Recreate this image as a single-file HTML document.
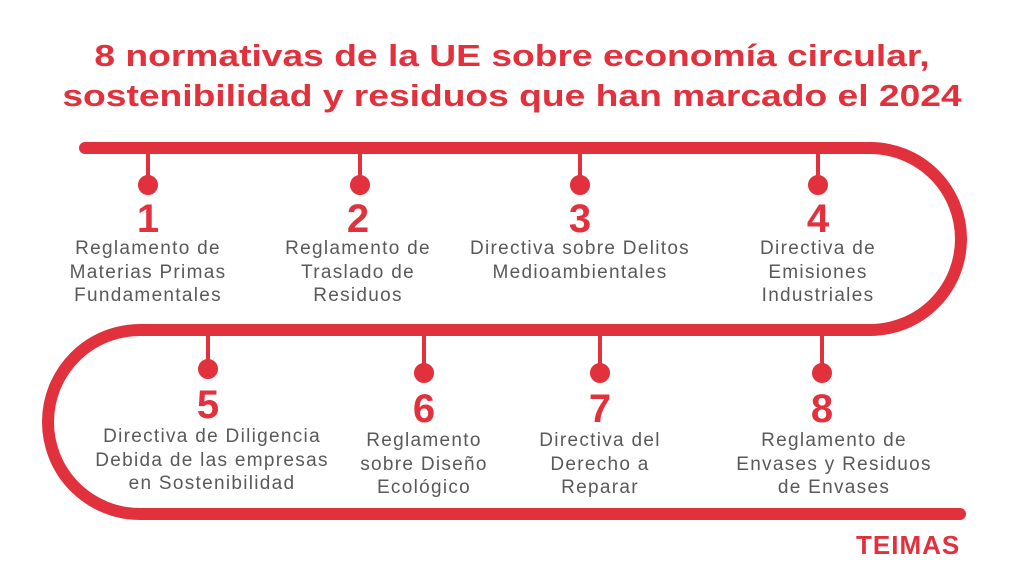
<!DOCTYPE html>
<html><head><meta charset="utf-8"><style>
body{margin:0;width:1024px;height:576px;background:#fff;overflow:hidden;position:relative;font-family:"Liberation Sans",sans-serif}
.t{position:absolute;left:0;width:1024px;text-align:center;color:#e1313d;font-weight:bold;font-size:31px;transform:scaleX(1.2);transform-origin:512px 0}
.n{position:absolute;width:260px;text-align:center;color:#e1313d;font-weight:bold;font-size:40px;line-height:40px}
.d{position:absolute;width:300px;text-align:center;color:#595959;font-size:19px;letter-spacing:1.3px;line-height:23.5px}
</style></head><body>
<div class="t" style="top:38px">8 normativas de la UE sobre economía circular,</div>
<div class="t" style="top:78px">sostenibilidad y residuos que han marcado el 2024</div>
<svg width="1024" height="576" style="position:absolute;left:0;top:0">
<g fill="none" stroke="#e1313d" stroke-width="12" stroke-linecap="round">
<path d="M85 148 H870 A91 91 0 0 1 870 330 H140 A92 92 0 0 0 140 514 H960"/>
</g>
<g stroke="#e1313d" stroke-width="4" fill="#e1313d">
<line x1="148" y1="148" x2="148" y2="184"/><circle cx="148" cy="185" r="8"/>
<line x1="360" y1="148" x2="360" y2="184"/><circle cx="360" cy="185" r="8"/>
<line x1="580" y1="148" x2="580" y2="184"/><circle cx="580" cy="185" r="8"/>
<line x1="818" y1="148" x2="818" y2="184"/><circle cx="818" cy="185" r="8"/>
<line x1="208" y1="330" x2="208" y2="368"/><circle cx="208" cy="369" r="8"/>
<line x1="424" y1="330" x2="424" y2="372"/><circle cx="424" cy="373" r="8"/>
<line x1="600" y1="330" x2="600" y2="372"/><circle cx="600" cy="373" r="8"/>
<line x1="822" y1="330" x2="822" y2="372"/><circle cx="822" cy="373" r="8"/>
</g></svg>
<div class="n" style="left:18px;top:199px">1</div>
<div class="d" style="left:-2px;top:237px">Reglamento de<br>Materias Primas<br>Fundamentales</div>
<div class="n" style="left:228px;top:199px">2</div>
<div class="d" style="left:208px;top:237px">Reglamento de<br>Traslado de<br>Residuos</div>
<div class="n" style="left:450px;top:199px">3</div>
<div class="d" style="left:430px;top:237px">Directiva sobre Delitos<br>Medioambientales</div>
<div class="n" style="left:688px;top:199px">4</div>
<div class="d" style="left:668px;top:237px">Directiva de<br>Emisiones<br>Industriales</div>
<div class="n" style="left:78px;top:385px">5</div>
<div class="d" style="left:62px;top:425px">Directiva de Diligencia<br>Debida de las empresas<br>en Sostenibilidad</div>
<div class="n" style="left:294px;top:389px">6</div>
<div class="d" style="left:274px;top:429px">Reglamento<br>sobre Diseño<br>Ecológico</div>
<div class="n" style="left:470px;top:389px">7</div>
<div class="d" style="left:450px;top:429px">Directiva del<br>Derecho a<br>Reparar</div>
<div class="n" style="left:692px;top:389px">8</div>
<div class="d" style="left:684px;top:429px">Reglamento de<br>Envases y Residuos<br>de Envases</div>
<div style="position:absolute;left:856px;top:530px;color:#e1313d;font-weight:bold;font-size:26px;letter-spacing:1px">TEIMAS</div>
</body></html>
